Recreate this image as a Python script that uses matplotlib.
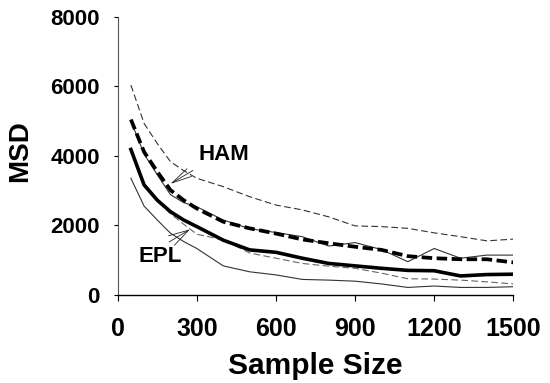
import matplotlib
matplotlib.use("Agg")
import matplotlib.pyplot as plt

plt.rcParams['font.family'] = ['Liberation Sans', 'DejaVu Sans']

sample_size = [50, 100, 150, 200, 250, 300, 400, 500, 600, 700, 800, 900, 1000, 1100, 1200, 1300, 1400, 1500]

ham_upper = [6030, 4930, 4350, 3830, 3570, 3350, 3110, 2820, 2580, 2440, 2240, 1980, 1960, 1910, 1780, 1670, 1550, 1600]
ham_mean  = [5040, 4110, 3540, 3010, 2720, 2480, 2100, 1910, 1760, 1590, 1480, 1380, 1290, 1110, 1050, 1020, 1020, 930]
ham_lower = [4150, 3150, 2700, 2330, 2030, 1740, 1580, 1200, 1050, 900, 820, 760, 620, 460, 450, 420, 370, 310]

epl_upper = [5000, 4050, 3450, 2880, 2650, 2530, 2150, 1900, 1790, 1670, 1400, 1500, 1300, 950, 1330, 1050, 1140, 1140]
epl_mean  = [4180, 3160, 2720, 2390, 2150, 1960, 1570, 1290, 1220, 1050, 900, 830, 760, 700, 690, 540, 580, 590]
epl_lower = [3350, 2550, 2150, 1770, 1530, 1330, 830, 660, 570, 440, 420, 390, 310, 210, 250, 210, 210, 230]

x_ticks = [0, 300, 600, 900, 1200, 1500]
y_ticks = [0, 2000, 4000, 6000, 8000]

fig = plt.figure(figsize=(5.5, 3.83), dpi=100)
ax = fig.add_axes([0.214, 0.2305, 0.7193, 0.726])

thin = 0.8
ax.plot(sample_size, ham_upper, color='#333333', lw=thin, dashes=(6, 3))
ax.plot(sample_size, ham_lower, color='#666666', lw=thin, dashes=(6, 3))
ax.plot(sample_size, epl_upper, color='#333333', lw=thin)
ax.plot(sample_size, epl_lower, color='#333333', lw=thin)
ax.plot(sample_size, ham_mean, color='black', lw=2.7, dashes=(2.8, 1.2))
ax.plot(sample_size, epl_mean, color='black', lw=2.6)

ax.set_xlim(0, 1500)
ax.set_ylim(0, 8000)
ax.set_xticks(x_ticks)
ax.set_yticks(y_ticks)
ax.set_xticklabels([str(v) for v in x_ticks], fontsize=18, fontweight='bold')
ax.set_yticklabels([str(v) for v in y_ticks], fontsize=16, fontweight='bold')
ax.tick_params(axis='x', direction='out', length=4, width=0.8, pad=12)
ax.tick_params(axis='y', direction='out', length=3, width=0.8, pad=10)

for s in ['top', 'right']:
    ax.spines[s].set_visible(False)
ax.spines['left'].set_linewidth(0.8)
ax.spines['left'].set_color('#555555')
ax.spines['bottom'].set_linewidth(1.0)

ax.set_xlabel('Sample Size', fontsize=21.5, fontweight='bold', labelpad=8)
fig.text(20.5 / 550, 1 - 151 / 383, 'MSD', rotation=90, fontsize=20,
         fontweight='bold', ha='center', va='center')

ax.annotate('HAM', xy=(200, 3190), xytext=(403, 4020), ha='center', va='center',
            fontsize=16, fontweight='bold',
            arrowprops=dict(arrowstyle='->,head_length=0.9,head_width=0.2',
                            lw=0.6, color='#222222', relpos=(0.05, 0.0),
                            shrinkA=3, shrinkB=0))
ax.annotate('EPL', xy=(274, 1880), xytext=(160, 1094), ha='center', va='center',
            fontsize=16, fontweight='bold',
            arrowprops=dict(arrowstyle='->,head_length=0.9,head_width=0.25',
                            lw=0.6, color='#222222', relpos=(0.55, 1.0),
                            shrinkA=2, shrinkB=0))

fig.savefig('out.png', dpi=100)
